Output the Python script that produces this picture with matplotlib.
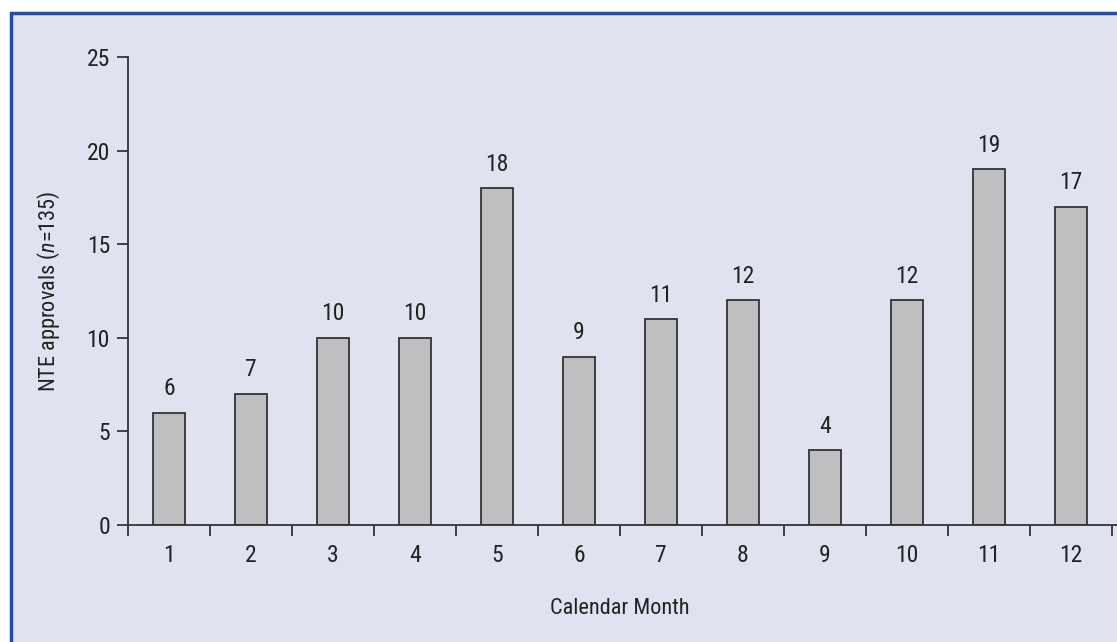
import matplotlib
matplotlib.use("Agg")
import matplotlib.pyplot as plt
from matplotlib.patches import Rectangle
from matplotlib import font_manager
import numpy as np

# data
months = [1, 2, 3, 4, 5, 6, 7, 8, 9, 10, 11, 12]
approvals = [6, 7, 10, 10, 18, 9, 11, 12, 4, 12, 19, 17]
yticks = [0, 5, 10, 15, 20, 25]

# the original uses a tall condensed face; pick a narrow one if there is one
names = set(f.name for f in font_manager.fontManager.ttflist)
narrow = [n for n in ['Liberation Sans Narrow', 'Roboto Condensed', 'Open Sans Condensed',
                      'DejaVu Sans Condensed'] if n in names]
plt.rcParams['font.family'] = narrow + ['DejaVu Sans']
plt.rcParams['font.stretch'] = 'condensed'
plt.rcParams['mathtext.fontset'] = 'custom'
plt.rcParams['mathtext.it'] = (narrow + ['DejaVu Sans'])[0] + ':italic'
plt.rcParams['mathtext.rm'] = (narrow + ['DejaVu Sans'])[0]

bg = '#e1e2ef'
ink = '#222222'
fs = 17

fig = plt.figure(figsize=(11.17, 6.42), dpi=100, facecolor='white')

# lavender panel with blue border, running off the right/bottom edges
# (zorder below the axes, otherwise fig.patches get drawn on top)
panel = Rectangle((11 / 1117, -0.05), 1.2, 1 - 13 / 642 + 0.05,
                  transform=fig.transFigure, facecolor=bg,
                  edgecolor='#2a4aa0', linewidth=2.5, zorder=-1)
fig.patches.append(panel)

ax = fig.add_axes([128 / 1117, 1 - 525 / 642, 984 / 1117, 468 / 642])
ax.set_facecolor('none')

x = np.arange(len(months))
bars = ax.bar(x, approvals, width=0.38, color='#bfbfc2',
              edgecolor='#333333', linewidth=1.3, zorder=2)

for xi, v in zip(x, approvals):
    ax.annotate(str(v), (xi, v), xytext=(0, 9), textcoords='offset points',
                ha='center', va='bottom', fontsize=fs, color=ink)

ax.set_xlim(-0.5, len(months) - 0.5)
ax.set_ylim(0, 25)
ax.set_yticks(yticks)
ax.set_yticklabels([str(t) for t in yticks])

# month labels centred under bars, tick marks at the category boundaries
ax.set_xticks(np.arange(len(months) + 1) - 0.5)
ax.set_xticklabels([])
ax.set_xticks(x, minor=True)
ax.set_xticklabels([str(m) for m in months], minor=True)
ax.tick_params(axis='x', which='minor', length=0, pad=14, labelsize=fs, labelcolor=ink)
ax.tick_params(axis='x', which='major', length=8, width=1.3, color='#333333', direction='out')
ax.tick_params(axis='y', length=8, width=1.3, color='#333333', direction='out',
               labelsize=fs, labelcolor=ink, pad=5)

for s in ['top', 'right']:
    ax.spines[s].set_visible(False)
for s in ['left', 'bottom']:
    ax.spines[s].set_color('#333333')
    ax.spines[s].set_linewidth(1.3)
ax.spines['bottom'].set_bounds(-0.5, 12.6)

ax.set_xlabel('Calendar Month', fontsize=16, color=ink, labelpad=22)
ax.set_ylabel(r'NTE approvals ($\mathit{n}$=135)', fontsize=16, color=ink, labelpad=18)

fig.savefig('out.png', dpi=100, facecolor='white')
